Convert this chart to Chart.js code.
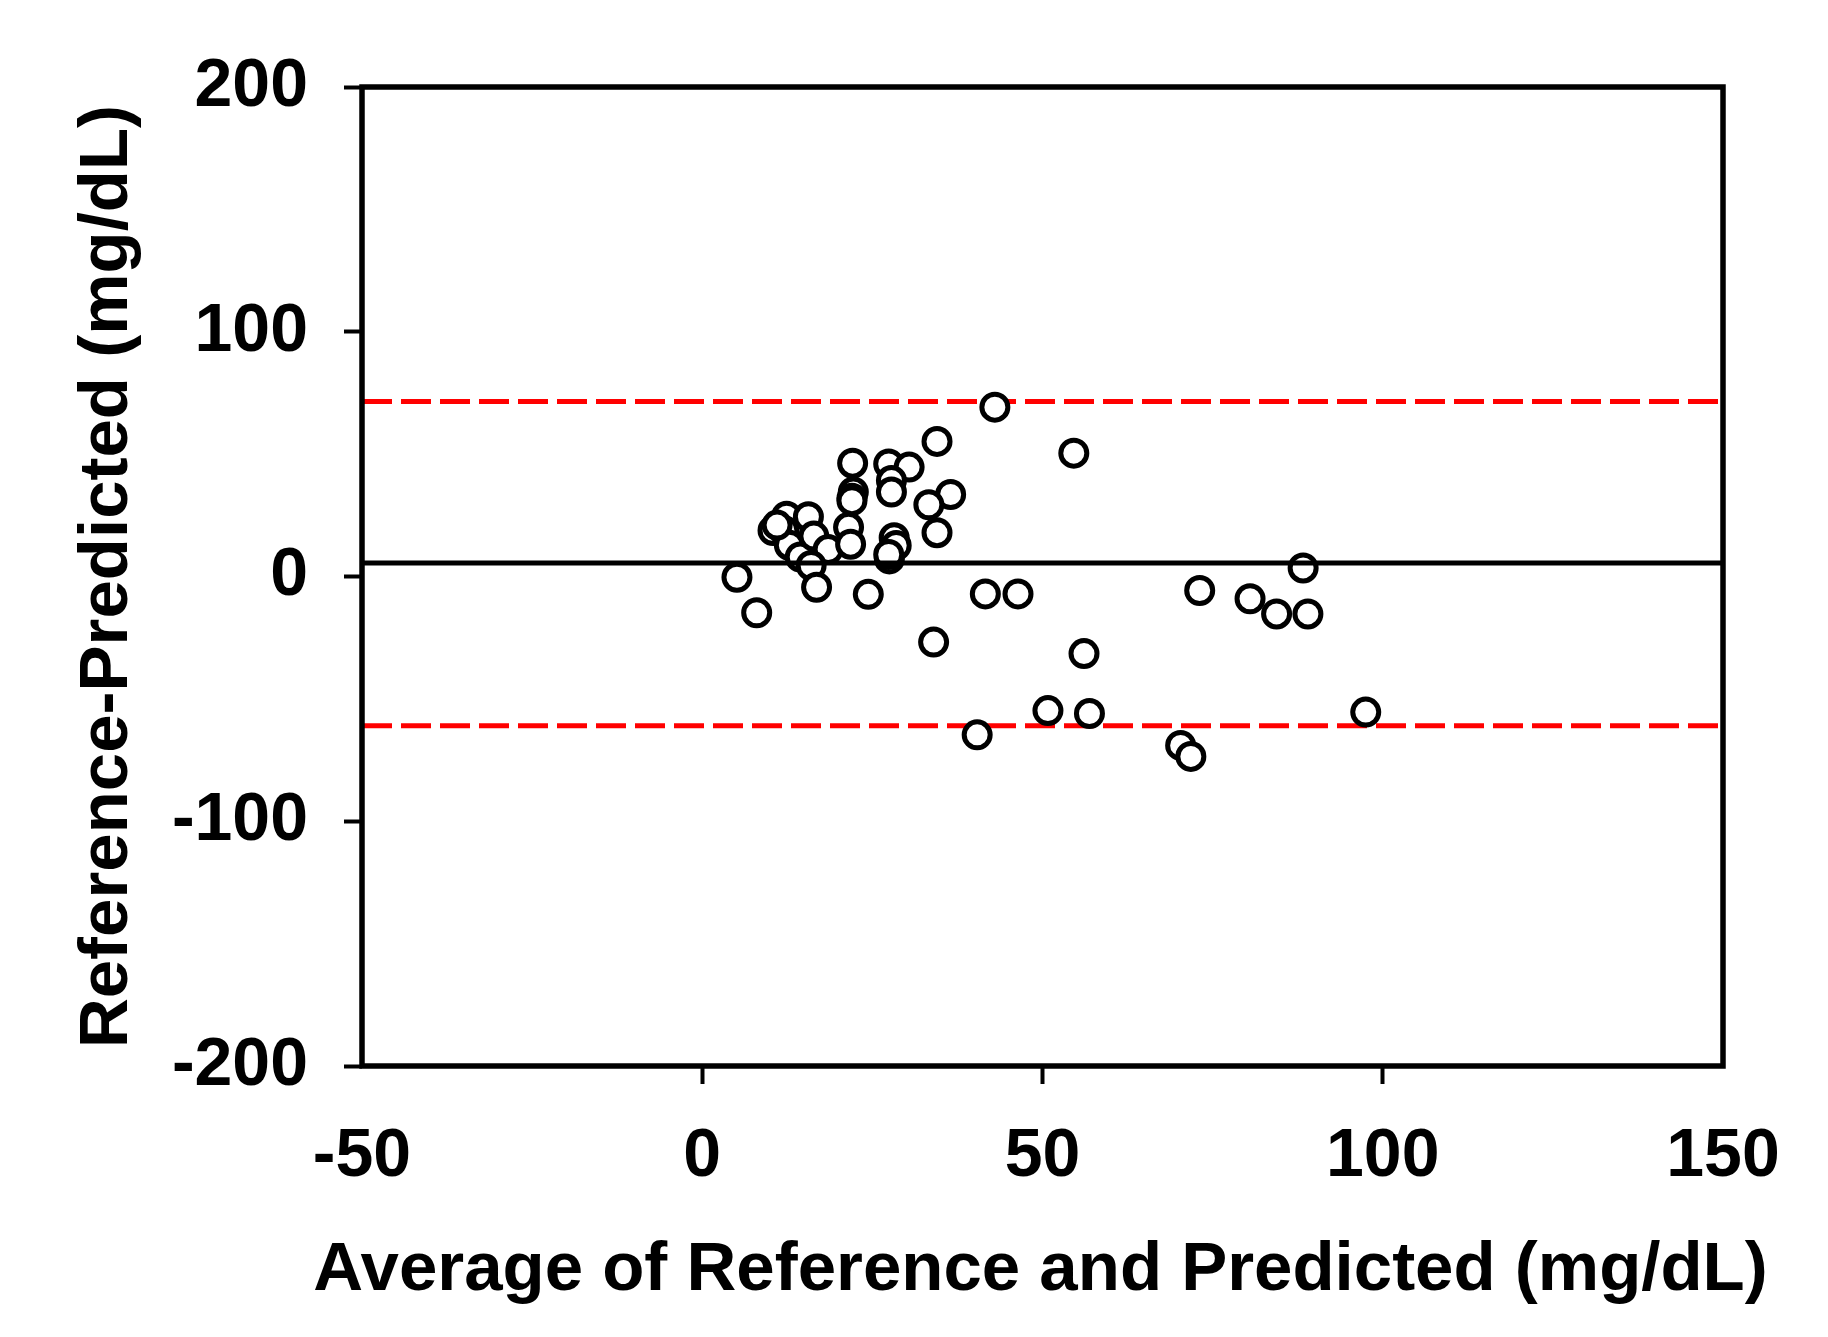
<!DOCTYPE html>
<html>
<head>
<meta charset="utf-8">
<script src="https://cdn.jsdelivr.net/npm/chart.js@4.4.1/dist/chart.umd.min.js"></script>
<style>
  html, body { margin: 0; padding: 0; background: #fff; }
  #wrap { width: 1828px; height: 1337px; }
</style>
</head>
<body>
<div id="wrap"><canvas id="bland-altman" width="1828" height="1337"></canvas></div>
<script>
// average of reference and predicted (x) and their difference (y), mg/dL
const avgValues = [
  43.0, 34.5, 54.6, 22.1, 27.4, 30.4, 27.8, 27.8, 22.2, 22.0,
  36.5, 33.3, 34.5, 12.4, 15.6, 10.4, 12.0, 12.8, 14.4, 16.4,
  18.5, 21.5, 21.8, 28.2, 28.5, 27.5, 16.0, 5.1, 8.0, 16.8,
  24.4, 41.6, 46.4, 34.0, 56.1, 50.8, 56.9, 40.4, 70.3, 71.8,
  73.1, 80.5, 84.4, 89.0, 88.3, 97.5, 22.0, 27.4, 11.0
];
const diffValues = [
  69.2, 55.2, 50.4, 46.3, 46.0, 44.7, 39.2, 34.5, 34.5, 32.0,
  33.5, 29.3, 17.9, 24.6, 24.4, 18.8, 18.8, 12.8, 8.0, 16.5,
  11.0, 20.1, 13.2, 15.8, 12.7, 7.2, 4.5, -0.3, -14.8, -4.4,
  -7.3, -7.1, -7.1, -26.8, -31.5, -54.8, -56.0, -64.7, -69.0, -73.5,
  -5.7, -9.1, -15.3, -15.3, 3.5, -55.4, 31.0, 9.0, 21.0
];
const meanDiff = 5.5;
const upperLimit = 71.5;
const lowerLimit = -61;
const xTicks = [-50, 0, 50, 100, 150];
const yTicks = [-200, -100, 0, 100, 200];
const xTitle = "Average of Reference and Predicted (mg/dL)";
const yTitle = "Reference-Predicted (mg/dL)";

const xMin = xTicks[0];
const xMax = xTicks[xTicks.length - 1];
const fontFamily = "'Liberation Sans', Arial, sans-serif";

function hLine(y) {
  return [{ x: xMin, y: y }, { x: xMax, y: y }];
}

// box around the plot area
const framePlugin = {
  id: "frame",
  afterDatasetsDraw(chart) {
    const { ctx, chartArea } = chart;
    ctx.save();
    ctx.strokeStyle = "#000";
    ctx.lineWidth = 5.5;
    ctx.strokeRect(chartArea.left, chartArea.top,
      chartArea.right - chartArea.left, chartArea.bottom - chartArea.top);
    ctx.restore();
  }
};

// x title is wider than the plot area, so chart.js would squeeze it; draw it here
const xTitlePlugin = {
  id: "xTitle",
  afterDraw(chart) {
    const { ctx, chartArea } = chart;
    ctx.save();
    ctx.fillStyle = "#000";
    ctx.font = "bold 69px " + fontFamily;
    ctx.textAlign = "center";
    ctx.textBaseline = "middle";
    ctx.fillText(xTitle, (chartArea.left + chartArea.right) / 2 - 2, 1271);
    ctx.restore();
  }
};

const ctx = document.getElementById("bland-altman").getContext("2d");
new Chart(ctx, {
  type: "scatter",
  data: {
    datasets: [
      {
        type: "line",
        label: "Mean",
        data: hLine(meanDiff),
        borderColor: "#000",
        borderWidth: 5,
        pointRadius: 0,
        order: 0
      },
      {
        label: "Samples",
        data: avgValues.map((x, i) => ({ x: x, y: diffValues[i] })),
        pointStyle: "circle",
        pointRadius: 13,
        borderWidth: 5,
        borderColor: "#000",
        backgroundColor: "#fff",
        order: 1
      },
      {
        type: "line",
        label: "Upper limit",
        data: hLine(upperLimit),
        borderColor: "#ff0000",
        borderWidth: 5,
        borderDash: [30, 9],
        pointRadius: 0,
        order: 2
      },
      {
        type: "line",
        label: "Lower limit",
        data: hLine(lowerLimit),
        borderColor: "#ff0000",
        borderWidth: 5,
        borderDash: [30, 9],
        pointRadius: 0,
        order: 2
      }
    ]
  },
  options: {
    responsive: false,
    animation: false,
    devicePixelRatio: 1,
    layout: { padding: { top: 87, right: 105, left: 0, bottom: 0 } },
    plugins: {
      legend: { display: false },
      tooltip: { enabled: false }
    },
    scales: {
      x: {
        type: "linear",
        min: xMin,
        max: xMax,
        afterBuildTicks: (scale) => { scale.ticks = xTicks.map((v) => ({ value: v })); },
        afterFit: (scale) => { scale.height = 271; },
        border: { display: false },
        grid: {
          drawOnChartArea: false,
          drawTicks: true,
          tickLength: 18,
          tickWidth: 4,
          tickColor: (c) => (c.tick && (c.tick.value === xMin || c.tick.value === xMax)) ? "rgba(0,0,0,0)" : "#000"
        },
        ticks: {
          color: "#000",
          padding: 39,
          maxRotation: 0,
          font: { family: fontFamily, size: 68, weight: "bold", lineHeight: 1 }
        },
        title: { display: false }
      },
      y: {
        type: "linear",
        min: yTicks[0],
        max: yTicks[yTicks.length - 1],
        afterBuildTicks: (scale) => { scale.ticks = yTicks.map((v) => ({ value: v })); },
        afterFit: (scale) => { scale.width = 362; },
        border: { display: false },
        grid: {
          drawOnChartArea: false,
          drawTicks: true,
          tickLength: 18,
          tickWidth: 4,
          tickColor: "#000"
        },
        ticks: {
          color: "#000",
          padding: 36,
          font: { family: fontFamily, size: 68, weight: "bold", lineHeight: 1 }
        },
        title: {
          display: true,
          text: yTitle,
          color: "#000",
          padding: { top: 73, bottom: 0 },
          font: { family: fontFamily, size: 69, weight: "bold", lineHeight: 1 }
        }
      }
    }
  },
  plugins: [framePlugin, xTitlePlugin]
});
</script>
</body>
</html>
